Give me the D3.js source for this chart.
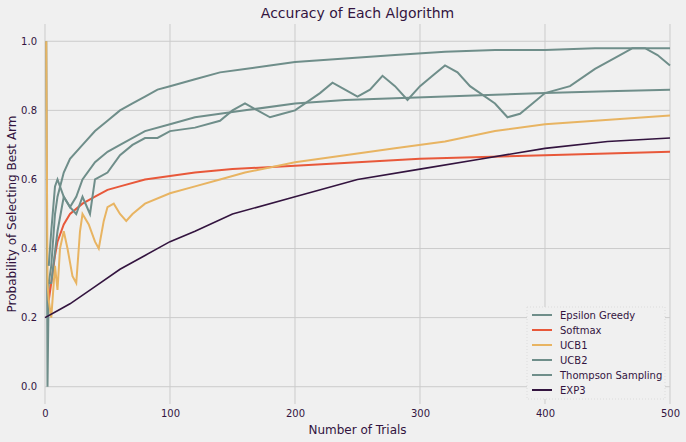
<!DOCTYPE html>
<html><head><meta charset="utf-8">
<script src="https://cdn.jsdelivr.net/npm/d3@7"></script>
<style>body{margin:0;background:#fff;font-family:"DejaVu Sans",sans-serif;}</style>
</head><body><div id="chart"></div>
<script>
// sampled readings: [trial, probability]
const epsilonGreedy = [[1,1.0],[2,0.0],[3,0.3],[5,0.35],[8,0.5],[10,0.55],[15,0.62],[20,0.66],[30,0.7],[40,0.74],[50,0.77],[60,0.8],[70,0.82],[80,0.84],[90,0.86],[100,0.87],[120,0.89],[140,0.91],[160,0.92],[180,0.93],[200,0.94],[240,0.95],[280,0.96],[320,0.97],[360,0.975],[400,0.975],[440,0.98],[480,0.98],[500,0.98]];
const softmax = [[3,0.25],[5,0.3],[8,0.38],[10,0.42],[15,0.47],[20,0.5],[30,0.53],[40,0.55],[50,0.57],[60,0.58],[80,0.6],[100,0.61],[120,0.62],[150,0.63],[200,0.64],[250,0.65],[300,0.66],[350,0.665],[400,0.67],[450,0.675],[500,0.68]];
const ucb1 = [[1,1.0],[2,0.3],[3,0.25],[5,0.2],[8,0.35],[10,0.28],[12,0.4],[15,0.45],[18,0.4],[22,0.32],[25,0.3],[28,0.45],[30,0.5],[35,0.47],[40,0.42],[43,0.4],[47,0.48],[50,0.52],[55,0.53],[60,0.5],[65,0.48],[70,0.5],[80,0.53],[100,0.56],[120,0.58],[140,0.6],[160,0.62],[200,0.65],[240,0.67],[280,0.69],[320,0.71],[360,0.74],[400,0.76],[440,0.77],[480,0.78],[500,0.785]];
const ucb2 = [[3,0.3],[5,0.3],[10,0.45],[15,0.55],[20,0.52],[25,0.5],[30,0.55],[36,0.5],[40,0.6],[50,0.62],[60,0.67],[70,0.7],[80,0.72],[90,0.72],[100,0.74],[120,0.75],[140,0.77],[150,0.8],[160,0.82],[170,0.8],[180,0.78],[190,0.79],[200,0.8],[220,0.85],[230,0.88],[240,0.86],[250,0.84],[260,0.86],[270,0.9],[280,0.87],[290,0.83],[300,0.87],[310,0.9],[320,0.93],[330,0.91],[340,0.87],[360,0.82],[370,0.78],[380,0.79],[390,0.82],[400,0.85],[420,0.87],[440,0.92],[460,0.96],[470,0.98],[480,0.98],[490,0.96],[500,0.93]];
const thompson = [[3,0.35],[5,0.45],[8,0.58],[10,0.6],[15,0.55],[20,0.52],[25,0.55],[30,0.6],[40,0.65],[50,0.68],[60,0.7],[80,0.74],[100,0.76],[120,0.78],[140,0.79],[160,0.8],[200,0.82],[240,0.83],[280,0.835],[320,0.84],[360,0.845],[400,0.85],[450,0.855],[500,0.86]];
const exp3 = [[0,0.2],[10,0.22],[20,0.24],[40,0.29],[60,0.34],[80,0.38],[100,0.42],[120,0.45],[150,0.5],[200,0.55],[250,0.6],[300,0.63],[350,0.66],[400,0.69],[450,0.71],[500,0.72]];
const names = ["Epsilon Greedy","Softmax","UCB1","UCB2","Thompson Sampling","EXP3"];
const colors = ["#6f8e8a","#e8583a","#e8b462","#6f8e8a","#6f8e8a","#33143f"];
const series = [epsilonGreedy, softmax, ucb1, ucb2, thompson, exp3];
const xTicks = [0,100,200,300,400,500];
const yTicks = [0,0.2,0.4,0.6,0.8,1.0];

const W = 686, H = 442;
const margin = {top: 24, right: 16, bottom: 38, left: 45};
const width = W - margin.left - margin.right, height = H - margin.top - margin.bottom;
const txt = "#33143f";

const svg = d3.select("#chart").append("svg").attr("width", W).attr("height", H);
svg.append("rect").attr("width", W).attr("height", H).attr("fill", "#f0f0f0");
const g = svg.append("g").attr("transform", "translate(" + margin.left + "," + margin.top + ")");

const x = d3.scaleLinear().domain([0, 500]).range([0, width]);
const y = d3.scaleLinear().domain([-0.05, 1.05]).range([height, 0]);

g.append("g").selectAll("line").data(xTicks).join("line")
  .attr("x1", d => x(d)).attr("x2", d => x(d)).attr("y1", 0).attr("y2", height)
  .attr("stroke", "#cbcbcb");
g.append("g").selectAll("line").data(yTicks).join("line")
  .attr("y1", d => y(d)).attr("y2", d => y(d)).attr("x1", 0).attr("x2", width)
  .attr("stroke", "#cbcbcb");

const xa = g.append("g").attr("transform", "translate(0," + height + ")")
  .call(d3.axisBottom(x).tickValues(xTicks).tickSize(0).tickPadding(6));
const ya = g.append("g").call(d3.axisLeft(y).tickValues(yTicks).tickFormat(d3.format(".1f")).tickSize(0).tickPadding(8));
[xa, ya].forEach(a => {
  a.select(".domain").remove();
  a.selectAll("text").attr("fill", txt).style("font-size", "10px").style("font-family", "DejaVu Sans");
});

const line = d3.line().x(d => x(d[0])).y(d => y(d[1]));
series.forEach((s, i) => {
  g.append("path").datum(s).attr("fill", "none")
    .attr("stroke", colors[i]).attr("stroke-width", i === 5 ? 1.6 : 2)
    .attr("d", line);
});

svg.append("text").attr("x", margin.left + width / 2).attr("y", 18)
  .attr("text-anchor", "middle").attr("fill", txt).style("font-size", "14px").text("Accuracy of Each Algorithm");
svg.append("text").attr("x", margin.left + width / 2).attr("y", H - 8)
  .attr("text-anchor", "middle").attr("fill", txt).style("font-size", "12px").text("Number of Trials");
svg.append("text").attr("transform", "translate(16," + (margin.top + height / 2) + ") rotate(-90)")
  .attr("text-anchor", "middle").attr("fill", txt).style("font-size", "12px").text("Probability of Selecting Best Arm");

const lg = svg.append("g").attr("transform", "translate(527,307)");
lg.append("rect").attr("width", 138).attr("height", 92).attr("fill", "#f0f0f0")
  .attr("stroke", "#dcdcdc").attr("stroke-dasharray", "1,2");
names.forEach((n, i) => {
  const yy = 8 + i * 15;
  lg.append("line").attr("x1", 5).attr("x2", 25).attr("y1", yy).attr("y2", yy)
    .attr("stroke", colors[i]).attr("stroke-width", 2);
  lg.append("text").attr("x", 33).attr("y", yy + 4).attr("fill", txt)
    .style("font-size", "10px").text(n);
});
</script></body></html>
